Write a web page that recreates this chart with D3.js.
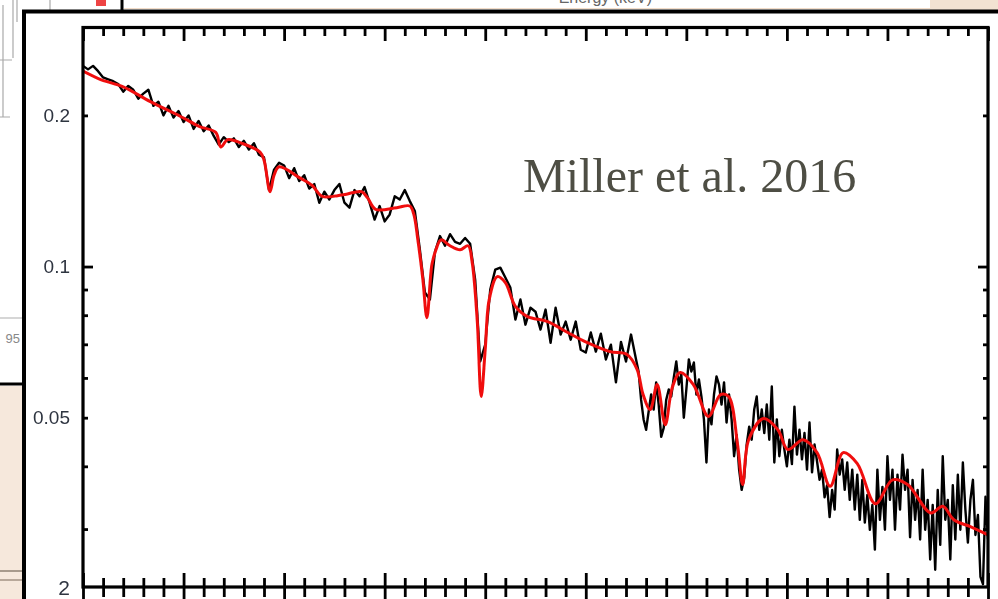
<!DOCTYPE html>
<html>
<head>
<meta charset="utf-8">
<script src="https://cdn.jsdelivr.net/npm/d3@7"></script>
<style>
  html, body { margin: 0; padding: 0; background: #fff; overflow: hidden; }
  svg { display: block; }
</style>
</head>
<body>
<svg id="chart" width="998" height="599"></svg>
<script>
// best-fit model (red), energy in keV / flux
var modelE = [2.00,2.17,2.40,2.67,2.97,3.16,3.32,3.37,3.44,3.58,3.76,3.80,3.86,3.90,3.95,4.16,4.28,4.38,4.59,4.77,
  4.83,4.91,5.12,5.25,5.29,5.33,5.38,5.42,5.47,5.51,5.56,5.65,5.75,5.83,5.87,5.92,5.96,6.00,6.04,6.12,
  6.20,6.30,6.42,6.62,6.82,7.01,7.24,7.41,7.51,7.57,7.64,7.71,7.79,7.86,7.94,8.07,8.22,8.34,8.42,8.51,
  8.56,8.62,8.77,8.91,9.01,9.16,9.30,9.43,9.56,9.70,9.88,10.05,10.20,10.43,10.55,10.66,10.83,11.00];
var modelF = [0.245,0.236,0.228,0.213,0.199,0.190,0.185,0.173,0.179,0.176,0.169,0.163,0.141,0.152,0.158,0.150,0.145,0.138,0.139,0.141,
  0.137,0.130,0.131,0.132,0.127,0.113,0.0942,0.0791,0.101,0.108,0.113,0.110,0.108,0.110,0.102,0.0784,0.0551,0.0683,0.0860,0.0955,
  0.0929,0.0833,0.0795,0.0777,0.0739,0.0706,0.0677,0.0668,0.0624,0.0556,0.0519,0.0582,0.0484,0.0574,0.0615,0.0582,0.0503,0.0556,0.0551,0.0441,
  0.0368,0.0452,0.0498,0.0473,0.0432,0.0452,0.0426,0.0365,0.0426,0.0405,0.0337,0.0376,0.0368,0.0323,0.0333,0.0313,0.0303,0.0292];

// observed spectrum (black), two binnings
var binA = { start: 2.0, width: 0.05 };
var fluxA = [0.251,0.247,0.251,0.245,0.238,0.236,0.234,0.231,0.223,0.229,
  0.225,0.216,0.221,0.225,0.209,0.213,0.200,0.209,0.198,0.204,
  0.194,0.200,0.188,0.195,0.186,0.191,0.182,0.175,0.181,0.177,
  0.180,0.173,0.178,0.171,0.176,0.167,0.165,0.142,0.156,0.161,
  0.159,0.150,0.157,0.148,0.152,0.143,0.146,0.134,0.141,0.136,
  0.142,0.146,0.134,0.131,0.142,0.138,0.144,0.134,0.124,0.132,
  0.123,0.127,0.138,0.136,0.142,0.135,0.129,0.108,0.0888,0.0860,
  0.107,0.115,0.110,0.116,0.112,0.111,0.114,0.111,0.0942,0.0647,
  0.0699,0.0900,0.0986,0.0995,0.0951,0.0908,0.0784,0.0860,0.0766,0.0828,
  0.0813,0.0749,0.0821,0.0705,0.0828,0.0732,0.0777,0.0715,0.0777,0.0683,
  0.0674,0.0739,0.0677,0.0735,0.0653,0.0699,0.0588,0.0708,0.0647,0.0732];
var binB = { start: 7.5, width: 0.025 };
var fluxB = [0.0653,0.0618,0.0543,0.0496,0.0473,0.0514,0.0556,0.0519,0.0588,0.0531,
  0.0458,0.0477,0.0543,0.0569,0.0551,0.0601,0.0647,0.0582,0.0610,0.0500,
  0.0569,0.0653,0.0618,0.0644,0.0556,0.0596,0.0551,0.0496,0.0407,0.0519,
  0.0485,0.0556,0.0604,0.0582,0.0531,0.0588,0.0489,0.0556,0.0496,0.0419,
  0.0462,0.0394,0.0359,0.0379,0.0442,0.0480,0.0452,0.0519,0.0551,0.0473,
  0.0519,0.0466,0.0531,0.0452,0.0577,0.0407,0.0496,0.0419,0.0473,0.0432,
  0.0400,0.0452,0.0404,0.0526,0.0422,0.0473,0.0413,0.0466,0.0394,0.0489,
  0.0389,0.0442,0.0409,0.0376,0.0394,0.0347,0.0367,0.0317,0.0359,0.0328,
  0.0432,0.0385,0.0413,0.0359,0.0407,0.0343,0.0394,0.0328,0.0385,0.0313,
  0.0376,0.0309,0.0351,0.0299,0.0335,0.0273,0.0394,0.0313,0.0364,0.0299,
  0.0419,0.0343,0.0394,0.0299,0.0385,0.0328,0.0422,0.0359,0.0394,0.0289,
  0.0376,0.0313,0.0359,0.0286,0.0394,0.0299,0.0343,0.0261,0.0335,0.0249,
  0.0359,0.0279,0.0419,0.0313,0.0343,0.0261,0.0367,0.0286,0.0385,0.0299,
  0.0407,0.0328,0.0282,0.0343,0.0376,0.0292,0.0320,0.0241,0.0233,0.0348,0.0286];

var yLabelValues = [0.2, 0.1, 0.05];
var yLabels = ["0.2", "0.1", "0.05"];
var yMajor = [0.1];
var yMinor = [0.03, 0.04, 0.05, 0.06, 0.07, 0.08, 0.09, 0.2, 0.3];

var svg = d3.select("#chart");

// soft edges like the scanned figure
var blur = svg.append("defs").append("filter").attr("id", "soft")
  .attr("x", "-5%").attr("y", "-5%").attr("width", "110%").attr("height", "110%");
blur.append("feGaussianBlur").attr("stdDeviation", 0.7);

// ---- slide background bits around the panel ----
svg.append("rect").attr("x", 0).attr("y", 386).attr("width", 24).attr("height", 213).attr("fill", "#f6e8dc");
svg.append("rect").attr("x", 930).attr("y", 0).attr("width", 68).attr("height", 10).attr("fill", "#f2e2d2");
svg.append("line").attr("x1", 0).attr("x2", 22).attr("y1", 571).attr("y2", 571).attr("stroke", "#a89a8c").attr("stroke-width", 2);
svg.append("line").attr("x1", 0).attr("x2", 22).attr("y1", 580).attr("y2", 580).attr("stroke", "#b8a89a").attr("stroke-width", 2);
svg.append("line").attr("x1", 0).attr("x2", 24).attr("y1", 384).attr("y2", 384).attr("stroke", "#000").attr("stroke-width", 3);
svg.append("line").attr("x1", 122).attr("x2", 122).attr("y1", 0).attr("y2", 11).attr("stroke", "#000").attr("stroke-width", 3);
svg.append("line").attr("x1", 124).attr("x2", 930).attr("y1", 8.5).attr("y2", 8.5).attr("stroke", "#f2dcc8").attr("stroke-width", 1);

// fragment of the neighbouring figure (top left)
var frag = svg.append("g").attr("stroke", "#aaa").attr("fill", "none").attr("stroke-width", 1.2);
frag.append("path").attr("d", "M3,5V117M0,60H12M0,117H10M13,0V58M17,0V22M50,0V25M45,25H55");
frag.append("path").attr("d", "M0,318H22").attr("stroke", "#bbb");
svg.append("rect").attr("x", 96).attr("y", 0).attr("width", 10).attr("height", 6).attr("fill", "#e44");
svg.append("text").attr("x", 20).attr("y", 343).attr("text-anchor", "end")
  .attr("font-family", "Liberation Sans, Arial, sans-serif").attr("font-size", 13).attr("fill", "#888").text("95");
svg.append("text").attr("x", 652).attr("y", 3).attr("text-anchor", "end")
  .attr("font-family", "Liberation Sans, Arial, sans-serif").attr("font-size", 16).attr("fill", "#666").text("Energy (keV)");

// white panel with heavy black frame
svg.append("rect").attr("x", 24).attr("y", 11.5).attr("width", 1000).attr("height", 600)
  .attr("fill", "#fff").attr("stroke", "#000").attr("stroke-width", 4);

// ---- scales ----
var x = d3.scaleLinear().domain([2, 11]).range([83, 988]);
var y = d3.scaleLog().domain([0.023, 0.30]).range([587, 27]);

svg.append("clipPath").attr("id", "plotclip").append("rect")
  .attr("x", 83).attr("y", 27).attr("width", 905).attr("height", 560);

var dataPts = fluxA.map(function (f, i) { return { e: binA.start + i * binA.width, f: f }; })
  .concat(fluxB.map(function (f, i) { return { e: binB.start + i * binB.width, f: f }; }));
var modelPts = modelE.map(function (e, i) { return { e: e, f: modelF[i] }; });

var fig = svg.append("g").attr("filter", "url(#soft)");
var plot = fig.append("g").attr("clip-path", "url(#plotclip)");
plot.append("path").datum(dataPts)
  .attr("d", d3.line().x(function (d) { return x(d.e); }).y(function (d) { return y(d.f); }))
  .attr("fill", "none").attr("stroke", "#000").attr("stroke-width", 2.4).attr("stroke-linejoin", "round");
plot.append("path").datum(modelPts)
  .attr("d", d3.line().curve(d3.curveCatmullRom.alpha(0.5)).x(function (d) { return x(d.e); }).y(function (d) { return y(d.f); }))
  .attr("fill", "none").attr("stroke", "#f01010").attr("stroke-width", 3);

// ---- axes ----
function tickRow(gen, vals, size, tr) {
  fig.append("g").attr("transform", tr)
    .call(gen.tickValues(vals).tickSize(size).tickFormat(""))
    .call(function (g) { g.select(".domain").remove(); })
    .selectAll("line").attr("stroke", "#000").attr("stroke-width", 2.8);
}
var xMajor = x.ticks(9);
var xMinor = x.ticks(45).filter(function (v) { return Math.abs(v - Math.round(v)) > 1e-6; });

tickRow(d3.axisTop(x), xMajor, -14, "translate(0,27)");
tickRow(d3.axisTop(x), xMinor, -9, "translate(0,27)");
tickRow(d3.axisBottom(x), xMajor, 13, "translate(0,587)");
tickRow(d3.axisBottom(x), xMajor, -14, "translate(0,587)");
tickRow(d3.axisBottom(x), xMinor, 10, "translate(0,587)");
tickRow(d3.axisBottom(x), xMinor, -9, "translate(0,587)");
tickRow(d3.axisLeft(y), yMajor, -10, "translate(83,0)");
tickRow(d3.axisLeft(y), yMinor, -5, "translate(83,0)");
tickRow(d3.axisRight(y), yMajor, -10, "translate(988,0)");
tickRow(d3.axisRight(y), yMinor, -5, "translate(988,0)");

fig.append("rect").attr("x", 83).attr("y", 27.5).attr("width", 905).attr("height", 559.5)
  .attr("fill", "none").attr("stroke", "#000").attr("stroke-width", 3.2);

fig.append("g").selectAll("text").data(yLabelValues).enter().append("text")
  .attr("x", 70).attr("y", function (d) { return y(d); }).attr("dy", "0.35em")
  .attr("text-anchor", "end").attr("font-family", "Liberation Sans, Arial, sans-serif")
  .attr("font-size", 19).attr("fill", "#2e3440")
  .text(function (d, i) { return yLabels[i]; });
fig.append("text").attr("x", 70).attr("y", 588).attr("dy", "0.35em").attr("text-anchor", "end")
  .attr("font-family", "Liberation Sans, Arial, sans-serif").attr("font-size", 21).attr("fill", "#2e3440").text("2");

svg.append("text").attr("x", 523).attr("y", 192)
  .attr("font-family", "Liberation Serif, Times New Roman, serif").attr("font-size", 48)
  .attr("fill", "#4e4e44").text("Miller et al. 2016");
</script>
</body>
</html>
